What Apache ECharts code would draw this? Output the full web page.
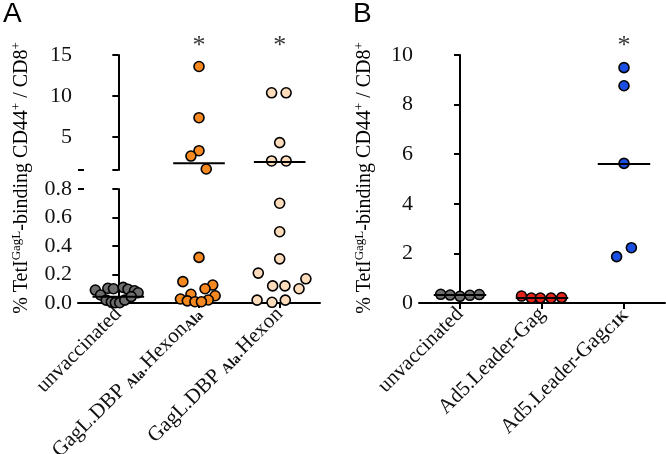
<!DOCTYPE html>
<html><head><meta charset="utf-8">
<script src="https://cdn.jsdelivr.net/npm/echarts@6/dist/echarts.min.js"></script>
<style>html,body{margin:0;padding:0;background:#fff}#c{width:666px;height:454px}</style>
</head><body><div id="c"></div>
<script>
// ---- Data ----
const categoriesA = ['unvaccinated', 'GagL.DBP Ala.Hexon Ala', 'GagL.DBP Ala.Hexon'];
const categoriesB = ['unvaccinated', 'Ad5.Leader-Gag', 'Ad5.Leader-GagC1K'];
const topTicksA = [5, 10, 15];

const unvaccinatedA = [0.091, 0.056, 0.103, 0.10, 0.11, 0.096, 0.086, 0.072, 0.02, 0.008, 0.002, 0.002, 0.02, 0.045];
const unvaccinatedAJitter = [-0.285, -0.22, -0.13, -0.06, 0.06, 0.12, 0.2, 0.245, -0.15, -0.087, -0.037, 0.017, 0.08, 0.16];
const dbpHexonAlaA = [13.6, 7.37, 3.35, 2.7, 1.12, 0.32, 0.15, 0.126, 0.10, 0.061, 0.051, 0.028, 0.021, 0.015, 0.009, 0.009];
const dbpHexonAlaAJitter = [0, 0, 0, -0.1, 0.09, 0, -0.2, 0.17, 0.075, -0.1, 0.2, -0.23, 0.115, -0.145, -0.05, 0.03];
const dbpHexonA = [10.4, 10.4, 4.33, 2.1, 2.1, 0.70, 0.50, 0.31, 0.21, 0.17, 0.12, 0.12, 0.10, 0.02, 0.005, 0.02];
const dbpHexonAJitter = [-0.1, 0.08, 0, -0.1, 0.08, 0, 0, 0, -0.265, 0.325, -0.087, 0.065, 0.24, -0.28, -0.095, 0.07];
const meansA = [0.044, 1.81, 1.97];
const starsA = [null, 16.1, 16.1];

const unvaccinatedB = [0.35, 0.32, 0.27, 0.31, 0.34];
const unvaccinatedBJitter = [-0.235, -0.12, 0, 0.12, 0.235];
const leaderGagB = [0.28, 0.2, 0.2, 0.2, 0.22];
const leaderGagBJitter = [-0.25, -0.13, -0.02, 0.11, 0.24];
const leaderGagC1KB = [9.49, 8.76, 5.63, 1.87, 2.23];
const leaderGagC1KBJitter = [0, 0, 0, -0.09, 0.09];
const meansB = [0.32, 0.2, 5.6];
const starsB = [null, null, 10.36];

const BREAK = 0.8; // lower segment max for panel A

// ---- Build ----
const SERIF = 'Liberation Serif';
const colors = {gray: '#6d6d6d', orange: '#f5891f', peach: '#fddcbc', red: '#e3231b', blue: '#1b4fe3'};

function pts(vals, jit, cat, keep) {
  const out = [];
  vals.forEach((v, i) => { if (keep(v)) out.push([cat + jit[i], v]); });
  return out;
}
function scatter(data, color, xi, yi) {
  return {type: 'scatter', xAxisIndex: xi, yAxisIndex: yi, data: data, symbolSize: 10, clip: false,
    itemStyle: {color: color, borderColor: '#000', borderWidth: 1.6, opacity: 1}, z: 3, silent: true};
}
function meanLine(cat, m, xi, yi) {
  return {type: 'line', xAxisIndex: xi, yAxisIndex: yi, data: [[cat - 0.32, m], [cat + 0.32, m]],
    symbol: 'none', lineStyle: {color: '#000', width: 2}, z: 5, silent: true, clip: false};
}
function stars(arr, xi, yi) {
  const d = [];
  arr.forEach((v, i) => { if (v != null) d.push([i, v]); });
  return {type: 'scatter', xAxisIndex: xi, yAxisIndex: yi, data: d, symbolSize: 1, clip: false,
    itemStyle: {color: 'rgba(0,0,0,0)'},
    label: {show: true, position: 'inside', formatter: '*', fontFamily: SERIF, fontSize: 26, color: '#000',
      textBorderWidth: 0}};
}
const hi = v => v > BREAK, lo = v => v <= BREAK;

const labelRich = {
  n: {fontFamily: SERIF, fontSize: 21, color: '#111', verticalAlign: 'bottom'},
  s: {fontFamily: SERIF, fontSize: 14, fontWeight: 'bold', color: '#111', verticalAlign: 'bottom'}
};
const richLabelsA = {
  'unvaccinated': '{n|unvaccinated}',
  'GagL.DBP Ala.Hexon Ala': '{n|GagL.DBP }{s|Ala}{n|.Hexon}{s|Ala}',
  'GagL.DBP Ala.Hexon': '{n|GagL.DBP }{s|Ala}{n|.Hexon}'
};
const richLabelsB = {
  'unvaccinated': '{n|unvaccinated}',
  'Ad5.Leader-Gag': '{n|Ad5.Leader-Gag}',
  'Ad5.Leader-GagC1K': '{n|Ad5.Leader-Gag}{s|C1K}'
};

const axLine = {show: true, lineStyle: {color: '#000', width: 2}};
const yLabel = {margin: 6, fontFamily: SERIF, fontSize: 22, color: '#111'};
const tickOut = {show: true, length: 6, lineStyle: {color: '#000', width: 2}};

const grids = [
  {left: 78, top: 55, width: 242, height: 115, outerBoundsMode: 'none', containLabel: false},
  {left: 78, top: 189, width: 242, height: 114, outerBoundsMode: 'none', containLabel: false},
  {left: 419, top: 55, width: 246, height: 248, outerBoundsMode: 'none', containLabel: false}
];

const xAxis = [
  {gridIndex: 0, type: 'value', min: -0.5, max: 2.5, show: false},
  {gridIndex: 1, type: 'category', data: categoriesA, boundaryGap: true, axisLine: axLine,
    axisTick: {show: true, alignWithLabel: true, length: 5, lineStyle: {color: '#000', width: 2}},
    axisLabel: {interval: 0, rotate: 45, margin: 8, hideOverlap: false, formatter: v => richLabelsA[v], rich: labelRich}},
  {gridIndex: 1, type: 'value', min: -0.5, max: 2.5, show: false, position: 'bottom'},
  {gridIndex: 2, type: 'category', data: categoriesB, boundaryGap: true, axisLine: axLine,
    axisTick: {show: true, alignWithLabel: true, length: 6, lineStyle: {color: '#000', width: 2}},
    axisLabel: {interval: 0, rotate: 45, margin: 8, hideOverlap: false, formatter: v => richLabelsB[v], rich: labelRich}},
  {gridIndex: 2, type: 'value', min: -0.5, max: 2.5, show: false, position: 'bottom'}
];

const yAxis = [
  {gridIndex: 0, type: 'value', min: 1, max: 15, axisLine: axLine, splitLine: {show: false},
    axisTick: Object.assign({}, tickOut, {customValues: [1].concat(topTicksA)}),
    axisLabel: Object.assign({}, yLabel, {customValues: topTicksA})},
  {gridIndex: 0, type: 'value', min: 1, max: 15, position: 'left', axisLine: {show: false}, splitLine: {show: false},
    axisLabel: {show: false}, axisTick: {show: true, inside: true, length: 6, customValues: [1], lineStyle: {color: '#000', width: 2}}},
  {gridIndex: 1, type: 'value', min: 0, max: 0.8, interval: 0.2, axisLine: axLine, splitLine: {show: false},
    axisTick: tickOut, axisLabel: Object.assign({}, yLabel, {formatter: v => v.toFixed(1)})},
  {gridIndex: 1, type: 'value', min: 0, max: 0.8, position: 'left', axisLine: {show: false}, splitLine: {show: false},
    axisLabel: {show: false}, axisTick: {show: true, inside: true, length: 6, customValues: [0.8], lineStyle: {color: '#000', width: 2}}},
  {gridIndex: 2, type: 'value', min: 0, max: 10, interval: 2, axisLine: axLine, splitLine: {show: false},
    axisTick: tickOut, axisLabel: yLabel}
];

const series = [];
// Panel A top segment (xAxis 0, yAxis 0)
series.push(scatter(pts(unvaccinatedA, unvaccinatedAJitter, 0, hi), colors.gray, 0, 0));
series.push(scatter(pts(dbpHexonAlaA, dbpHexonAlaAJitter, 1, hi), colors.orange, 0, 0));
series.push(scatter(pts(dbpHexonA, dbpHexonAJitter, 2, hi), colors.peach, 0, 0));
// Panel A bottom segment (xAxis 2, yAxis 2)
series.push(scatter(pts(unvaccinatedA, unvaccinatedAJitter, 0, lo), colors.gray, 2, 2));
series.push(scatter(pts(dbpHexonAlaA, dbpHexonAlaAJitter, 1, lo), colors.orange, 2, 2));
series.push(scatter(pts(dbpHexonA, dbpHexonAJitter, 2, lo), colors.peach, 2, 2));
meansA.forEach((m, i) => series.push(m > BREAK ? meanLine(i, m, 0, 0) : meanLine(i, m, 2, 2)));
series.push(stars(starsA, 0, 0));
// Panel B (xAxis 4, yAxis 4)
const all = () => true;
series.push(scatter(pts(unvaccinatedB, unvaccinatedBJitter, 0, all), colors.gray, 4, 4));
series.push(scatter(pts(leaderGagB, leaderGagBJitter, 1, all), colors.red, 4, 4));
series.push(scatter(pts(leaderGagC1KB, leaderGagC1KBJitter, 2, all), colors.blue, 4, 4));
meansB.forEach((m, i) => series.push(meanLine(i, m, 4, 4)));
series.push(stars(starsB, 4, 4));

const titleRich = {
  n: {fontFamily: SERIF, fontSize: 20, color: '#111', lineHeight: 24},
  s: {fontFamily: SERIF, fontSize: 13, color: '#111', lineHeight: 14, verticalAlign: 'top'}
};
const yTitle = '{n|% TetI}{s|GagL}{n|-binding CD44}{s|+}{n| / CD8}{s|+}';

const chart = echarts.init(document.getElementById('c'), null, {renderer: 'canvas'});
chart.setOption({
  animation: false,
  backgroundColor: '#fff',
  textStyle: {fontFamily: SERIF},
  grid: grids,
  xAxis: xAxis,
  yAxis: yAxis,
  series: series,
  graphic: [
    {type: 'text', x: 3, y: 0, style: {text: 'A', fontFamily: 'Liberation Sans', fontSize: 28, fill: '#000'}},
    {type: 'text', x: 353, y: 0, style: {text: 'B', fontFamily: 'Liberation Sans', fontSize: 28, fill: '#000'}},
    {type: 'text', x: 22, y: 178, rotation: Math.PI / 2,
      style: {text: yTitle, rich: titleRich, align: 'center', verticalAlign: 'middle'}},
    {type: 'text', x: 365, y: 178, rotation: Math.PI / 2,
      style: {text: yTitle, rich: titleRich, align: 'center', verticalAlign: 'middle'}}
  ]
});
</script></body></html>
